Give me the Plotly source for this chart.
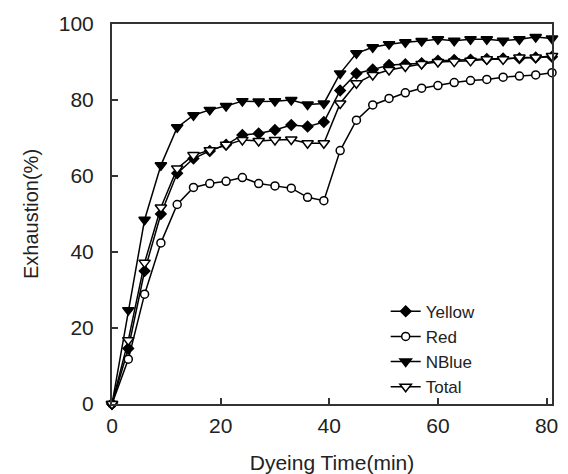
import plotly.graph_objects as go

time_min = [0, 3, 6, 9, 12, 15, 18, 21, 24, 27, 30, 33, 36, 39,
            42, 45, 48, 51, 54, 57, 60, 63, 66, 69, 72, 75, 78, 81]

yellow = [0, 14.6, 35, 50, 60.7, 64.6, 66.6, 68.2, 70.8, 71.2, 72.1, 73.4, 73, 74.2,
          82.5, 87, 88, 89.2, 89.4, 89.7, 90.3, 90.5, 90.6, 90.8, 90.9, 91, 91.2, 91.4]
red = [0, 11.8, 28.9, 42.4, 52.5, 57, 58, 58.6, 59.6, 58, 57.4, 56.8, 54.4, 53.5,
       66.7, 74.7, 78.7, 80.4, 81.9, 83.1, 83.8, 84.6, 85.1, 85.4, 86, 86.3, 86.6, 87.2]
nblue = [0, 24.7, 48.5, 62.8, 72.8, 76, 77.4, 78.4, 79.7, 79.6, 79.7, 80, 78.8, 79.1,
         87, 92.3, 93.9, 94.7, 95.2, 95.5, 96, 95.6, 96, 96, 95.6, 96, 96.6, 96.2]
total = [0, 16.8, 37.2, 51.7, 62, 65.5, 66.8, 68.2, 69.5, 69.2, 69.5, 69.6, 68.6, 68.6,
         79.1, 84.4, 86.6, 87.9, 88.8, 89.5, 90, 90.1, 90.3, 90.7, 90.7, 91.2, 91.2, 91.6]

x_ticks = [0, 20, 40, 60, 80]
y_ticks = [0, 20, 40, 60, 80, 100]

series = [
    ("Yellow", yellow, "diamond", "black", 8),
    ("Red", red, "circle", "white", 8),
    ("NBlue", nblue, "triangle-down", "black", 10),
    ("Total", total, "triangle-down", "white", 10),
]

fig = go.Figure()
for name, vals, sym, fill, size in series:
    fig.add_trace(go.Scatter(
        x=time_min, y=vals, name=name, mode="lines+markers",
        line=dict(color="black", width=1.5),
        marker=dict(symbol=sym, size=size, color=fill,
                    line=dict(color="black", width=1.5)),
        cliponaxis=False,
    ))

font_family = "Liberation Sans, Arial, sans-serif"
fig.update_layout(
    width=568, height=474,
    margin=dict(l=112, r=16, t=24, b=70),
    paper_bgcolor="white", plot_bgcolor="white",
    font=dict(family=font_family, color="#222", size=20),
    showlegend=True,
    legend=dict(x=0.622, y=0.29, xanchor="left", yanchor="top",
                bgcolor="rgba(0,0,0,0)", font=dict(size=17),
                tracegroupgap=0),
    xaxis=dict(range=[0, 81], tickvals=x_ticks, ticks="inside", ticklen=6,
               tickcolor="#333", tickwidth=1.5,
               showline=True, linecolor="#333", linewidth=2, mirror=True,
               showgrid=False, zeroline=False, automargin=False,
               tickfont=dict(size=21), ticklabelstandoff=2,
               title=dict(text="Dyeing Time(min)", font=dict(size=21), standoff=20)),
    yaxis=dict(range=[0, 100], tickvals=y_ticks, ticks="inside", ticklen=6,
               tickcolor="#333", tickwidth=1.5,
               showline=True, linecolor="#333", linewidth=2, mirror=True,
               showgrid=False, zeroline=False, automargin=False,
               tickfont=dict(size=21), ticklabelstandoff=12,
               title=dict(text="Exhaustion(%)", font=dict(size=20), standoff=15)),
)

fig.write_html("out.html",
               config={"displayModeBar": False},
               post_script="document.body.style.margin='0';document.body.style.overflow='hidden';")
